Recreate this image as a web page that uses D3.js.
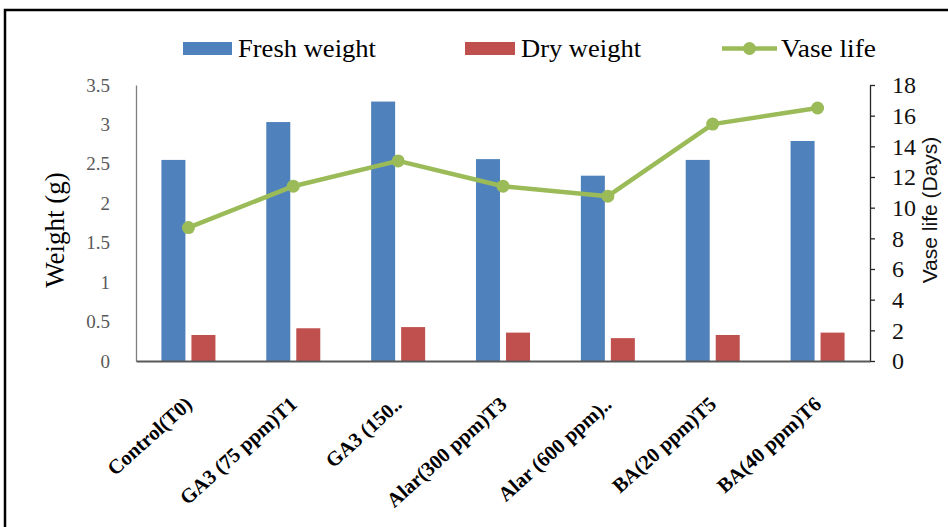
<!DOCTYPE html>
<html><head><meta charset="utf-8">
<script src="https://cdn.jsdelivr.net/npm/d3@7"></script>
<style>body{margin:0;background:#fff}svg{display:block}</style></head>
<body><svg id="c" width="948" height="527"></svg>
<script>
const categories = ["Control(T0)","GA3 (75 ppm)T1","GA3 (150..","Alar(300 ppm)T3","Alar (600 ppm)..","BA(20 ppm)T5","BA(40 ppm)T6"];
const freshWeight = [2.55,3.03,3.29,2.56,2.35,2.55,2.79];
const dryWeight = [0.33,0.415,0.43,0.36,0.29,0.33,0.36];
const vaseLife = [8.7,11.4,13.05,11.4,10.75,15.45,16.5];
const weightTicks = [0,0.5,1,1.5,2,2.5,3,3.5];
const vaseTicks = [0,2,4,6,8,10,12,14,16,18];
const legendLabels = ["Fresh weight","Dry weight","Vase life"];

const BLUE="#4F81BD", RED="#C0504D", GREEN="#9BBB59";
const svg = d3.select("#c");
const L=136, R=870, T=85, B=361;

// outer frame
svg.append("path").attr("d","M5,530V10H950").attr("fill","none").attr("stroke","#000").attr("stroke-width",2.5);

const x = d3.scaleBand().domain(categories).range([L,R]).paddingInner(0).paddingOuter(0);
const sub = d3.scaleBand().domain(["fresh","dry"]).range([0,54]).paddingInner(0.2);
const yL = d3.scaleLinear().domain([0,3.5]).range([B,T]);
const yR = d3.scaleLinear().domain([0,18]).range([B,T]);
const cx = c => x(c)+x.bandwidth()/2;

// bars
const g = svg.append("g");
g.selectAll("rect.f").data(categories).join("rect")
  .attr("x",(c)=>cx(c)-27+sub("fresh")).attr("width",sub.bandwidth())
  .attr("y",(c,i)=>yL(freshWeight[i])).attr("height",(c,i)=>B-yL(freshWeight[i]))
  .attr("fill",BLUE);
g.selectAll("rect.d").data(categories).join("rect")
  .attr("x",(c)=>cx(c)-27+sub("dry")).attr("width",sub.bandwidth())
  .attr("y",(c,i)=>yL(dryWeight[i])).attr("height",(c,i)=>B-yL(dryWeight[i]))
  .attr("fill",RED);

// left axis
const ax = svg.append("g").attr("transform",`translate(${L},0)`)
  .call(d3.axisLeft(yL).tickValues(weightTicks).tickSize(0).tickSizeOuter(0).tickPadding(26).tickFormat(d3.format("")));
ax.select(".domain").attr("stroke","#7f7f7f").attr("stroke-width",1.3);
ax.selectAll("text").attr("font-family","'Liberation Serif','Times New Roman',serif").attr("font-size",19).attr("fill","#595959");

// right axis
const ar = svg.append("g").attr("transform",`translate(${R},0)`)
  .call(d3.axisRight(yR).tickValues(vaseTicks).tickSize(5).tickSizeOuter(0).tickPadding(17));
ar.select(".domain").attr("stroke","#262626").attr("stroke-width",1.3);
ar.selectAll(".tick line").attr("stroke","#262626").attr("stroke-width",1.3);
ar.selectAll("text").attr("font-family","'Liberation Serif','Times New Roman',serif").attr("font-size",24).attr("fill","#111");

// x axis baseline
const axb = svg.append("g").attr("transform",`translate(0,${B})`)
  .call(d3.axisBottom(x).tickSize(0).tickSizeOuter(0).tickFormat(""));
axb.select(".domain").attr("stroke","#595959").attr("stroke-width",1.8);

// x labels
svg.append("g").selectAll("text").data(categories).join("text")
  .attr("transform",c=>`translate(${cx(c)+5},406) rotate(-42)`)
  .attr("text-anchor","end")
  .attr("font-family","'Liberation Serif','Times New Roman',serif")
  .attr("font-weight","bold").attr("font-size",20.5).attr("fill","#000")
  .text(c=>c);

// line
const line = d3.line().x((d,i)=>cx(categories[i])).y(d=>yR(d));
svg.append("path").datum(vaseLife).attr("d",line).attr("fill","none")
  .attr("stroke",GREEN).attr("stroke-width",4.5).attr("stroke-linejoin","round");
svg.append("g").selectAll("circle").data(vaseLife).join("circle")
  .attr("cx",(d,i)=>cx(categories[i])).attr("cy",d=>yR(d)).attr("r",6.5).attr("fill",GREEN);

// axis titles
svg.append("text").attr("transform",`translate(64,230) rotate(-90)`).attr("text-anchor","middle")
  .attr("font-family","'Liberation Serif','Times New Roman',serif").attr("font-size",27).attr("fill","#000")
  .text("Weight (g)");
svg.append("text").attr("transform",`translate(937,210) rotate(-90)`).attr("text-anchor","middle")
  .attr("font-family","'Liberation Sans',Arial,sans-serif").attr("font-size",21).attr("fill","#111")
  .text("Vase life (Days)");

// legend
const lg = svg.append("g");
const swX=[183,465,722], txX=[238,521,781], txW=[138,120,95];
lg.append("rect").attr("x",swX[0]).attr("y",42).attr("width",49).attr("height",13).attr("fill",BLUE);
lg.append("rect").attr("x",swX[1]).attr("y",42).attr("width",50).attr("height",13).attr("fill",RED);
lg.append("line").attr("x1",swX[2]).attr("x2",swX[2]+55).attr("y1",48.5).attr("y2",48.5).attr("stroke",GREEN).attr("stroke-width",4.5);
lg.append("circle").attr("cx",swX[2]+27.5).attr("cy",48.5).attr("r",6.5).attr("fill",GREEN);
lg.selectAll("text").data(legendLabels).join("text")
  .attr("x",(d,i)=>txX[i]).attr("y",57)
  .attr("font-family","'Liberation Serif','Times New Roman',serif").attr("font-size",25).attr("fill","#000")
  .attr("textLength",(d,i)=>txW[i]).attr("lengthAdjust","spacingAndGlyphs")
  .text(d=>d);
</script></body></html>
